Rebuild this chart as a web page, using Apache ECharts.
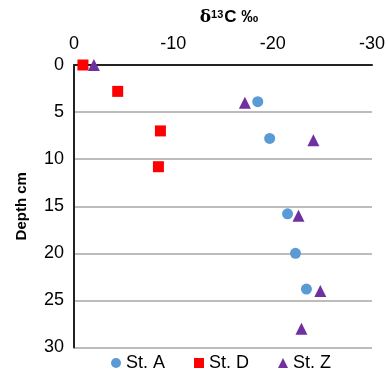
<!DOCTYPE html>
<html><head><meta charset="utf-8">
<script src="https://cdn.jsdelivr.net/npm/echarts@6/dist/echarts.min.js"></script>
<style>html,body{margin:0;padding:0;background:#fff}#c{width:388px;height:375px}</style>
</head><body><div id="c"></div>
<script>
const seriesNames = ['St. A', 'St. D', 'St. Z'];
const stA = [[-18.5, 3.9], [-19.7, 7.8], [-21.5, 15.8], [-22.3, 20], [-23.4, 23.8]];
const stD = [[-0.9, 0], [-4.4, 2.8], [-8.7, 7], [-8.5, 10.8]];
const stZ = [[-2, 0], [-17.2, 4], [-24.1, 8], [-22.6, 16], [-24.8, 24], [-22.9, 28]];
const xTicks = [0, -10, -20, -30];
const yTicks = [0, 5, 10, 15, 20, 25, 30];

const font = 'Liberation Sans, Arial, sans-serif';
const chart = echarts.init(document.getElementById('c'), null, {renderer: 'canvas'});
chart.setOption({
  animation: false,
  backgroundColor: '#fff',
  title: {
    text: '{d|δ}{s|13}{a|C ‰}',
    left: 224, top: 4, textAlign: 'center',
    textStyle: {
      rich: {
        d: {fontFamily: 'DejaVu Serif', fontSize: 17, color: '#000'},
        s: {fontFamily: font, fontSize: 11, fontWeight: 'bold', color: '#000', verticalAlign: 'top', padding: [0, 1, 6, 0]},
        a: {fontFamily: font, fontSize: 17, fontWeight: 'bold', color: '#000'}
      }
    }
  },
  legend: {
    bottom: 3, left: 111, padding: 0,
    itemWidth: 10, itemHeight: 10, itemGap: 29,
    textStyle: {fontFamily: font, fontSize: 18, color: '#000'},
    data: [
      {name: seriesNames[0], icon: 'circle'},
      {name: seriesNames[1], icon: 'rect'},
      {name: seriesNames[2], icon: 'triangle'}
    ]
  },
  grid: {left: 74, right: 16, top: 65, bottom: 27.5, containLabel: false},
  xAxis: {
    type: 'value', position: 'top', inverse: true,
    min: -30, max: 0, interval: 10,
    axisLine: {onZero: false, lineStyle: {color: '#222', width: 2}},
    axisTick: {show: false},
    splitLine: {show: false},
    axisLabel: {fontFamily: font, fontSize: 18, color: '#000', margin: 12,
      formatter: v => xTicks.includes(v) ? String(v) : ''}
  },
  yAxis: {
    type: 'value', inverse: true,
    min: 0, max: 30, interval: 5,
    name: 'Depth cm', nameLocation: 'middle', nameRotate: 90, nameGap: 45,
    nameTextStyle: {fontFamily: font, fontSize: 15, fontWeight: 'bold', color: '#000'},
    axisLine: {onZero: false, lineStyle: {color: '#222', width: 2}},
    axisTick: {show: false},
    splitLine: {show: true, lineStyle: {color: '#a6a6a6', width: 1.5}},
    axisLabel: {fontFamily: font, fontSize: 18, color: '#000', margin: 10,
      formatter: v => yTicks.includes(v) ? String(v) : ''}
  },
  series: [
    {name: seriesNames[0], type: 'scatter', data: stA, symbol: 'circle', symbolSize: 11, itemStyle: {color: '#5b9bd5', opacity: 1}},
    {name: seriesNames[1], type: 'scatter', data: stD, symbol: 'rect', symbolSize: 11, itemStyle: {color: '#ff0000', opacity: 1}},
    {name: seriesNames[2], type: 'scatter', data: stZ, symbol: 'triangle', symbolSize: 12, itemStyle: {color: '#7030a0', opacity: 1}}
  ]
});
</script></body></html>
